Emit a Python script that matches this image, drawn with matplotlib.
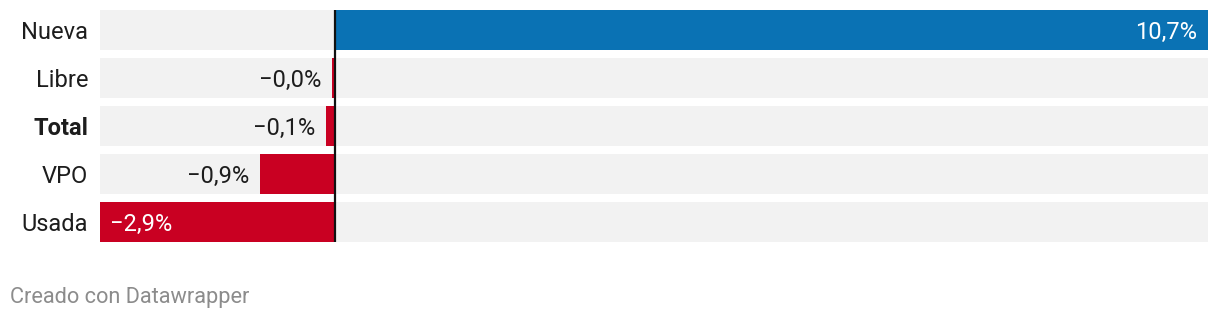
import matplotlib
matplotlib.use("Agg")
import matplotlib.pyplot as plt

# datos (variación anual, %)
categories = ["Nueva", "Libre", "Total", "VPO", "Usada"]
values = [10.72, -0.03, -0.10, -0.91, -2.88]
bold_rows = ["Total"]

BLUE = "#0a72b4"
RED = "#c90022"
BG = "#f2f2f2"
TXT = "#1d1d1d"

W, H = 1220, 318
fig = plt.figure(figsize=(W / 100, H / 100), dpi=100)
plt.rcParams["font.family"] = ["Roboto", "DejaVu Sans"]

x0, x1 = 100, 1208
y_top, y_bot = 10, 242
ax = fig.add_axes([x0 / W, 1 - y_bot / H, (x1 - x0) / W, (y_bot - y_top) / H])

xmin, xmax = min(values), max(values)
ax.set_xlim(xmin, xmax)
n = len(categories)
pitch = 48
bar_h = 40 / pitch
ax.set_ylim(n - 1 + bar_h / 2, -bar_h / 2)
ax.axis("off")

px = (xmax - xmin) / (x1 - x0)  # data units per pixel
FS = 17

for i, (cat, v) in enumerate(zip(categories, values)):
    ax.barh(i, xmax - xmin, left=xmin, height=bar_h, color=BG, zorder=1)
    ax.barh(i, v, height=bar_h, color=BLUE if v >= 0 else RED, zorder=2)
    lbl = f"{abs(v):.1f}%".replace(".", ",")
    if v < 0:
        lbl = "\u2212" + lbl
    if v > 0:
        ax.text(v - 11 * px, i, lbl, ha="right", va="center_baseline",
                color="white", fontsize=FS, zorder=3)
    elif v - xmin < 1.0:
        ax.text(xmin + 10 * px, i, lbl, ha="left", va="center_baseline",
                color="white", fontsize=FS, zorder=3)
    else:
        ax.text(v - 11 * px, i, lbl, ha="right", va="center_baseline",
                color=TXT, fontsize=FS, zorder=3)
    ax.text(xmin - 12 * px, i, cat, ha="right", va="center_baseline",
            color=TXT, fontsize=FS,
            fontweight="bold" if cat in bold_rows else "normal")

ax.axvline(0, color="#111111", lw=1.6, zorder=4)

fig.text(10 / W, 1 - 295 / H, "Creado con Datawrapper", ha="left",
         va="center_baseline", color="#8c8c8c", fontsize=15.7)

fig.savefig("out.png", dpi=100, facecolor="white")
